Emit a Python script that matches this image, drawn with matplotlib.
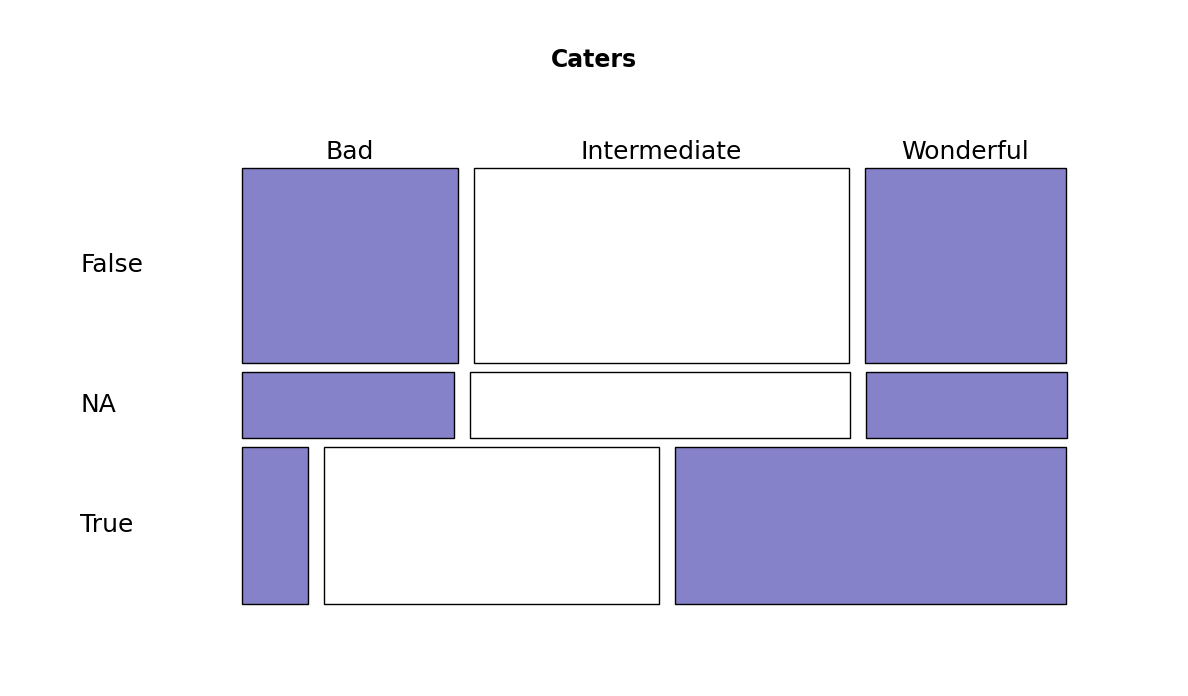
import matplotlib.pyplot as plt
from matplotlib.patches import Rectangle

rows = ['False', 'NA', 'True']
cols = ['Bad', 'Intermediate', 'Wonderful']
row_share = [0.466, 0.158, 0.376]
col_share = {
    'False': [0.273, 0.473, 0.254],
    'NA': [0.268, 0.479, 0.254],
    'True': [0.083, 0.423, 0.494],
}
fills = ['#8682ca', 'white', '#8682ca']

W, H = 1188, 696
fig = plt.figure(figsize=(W / 100, H / 100), dpi=100)
ax = fig.add_axes([242 / W, (H - 604) / H, 824 / W, 436 / H])
ax.set_xlim(0, 824)
ax.set_ylim(436, 0)
ax.axis('off')

xgap, ygap = 16, 9
avail_h = 436 - ygap * (len(rows) - 1)
avail_w = 824 - xgap * (len(cols) - 1)
y = 0
for r, rs in zip(rows, row_share):
    h = rs * avail_h
    x = 0
    for j, cs in enumerate(col_share[r]):
        w = cs * avail_w
        ax.add_patch(Rectangle((x, y), w, h, facecolor=fills[j],
                               edgecolor='black', linewidth=1, clip_on=False))
        if r == rows[0]:
            ax.text(x + w / 2, -4, cols[j], ha='center', va='bottom', fontsize=18)
        x += w + xgap
    ax.text(-162, y + h / 2, r, ha='left', va='center', fontsize=18)
    y += h + ygap

fig.text(0.5, 1 - 60 / H, 'Caters', ha='center', va='center',
         fontsize=17, fontweight='bold')
fig.savefig('out.png')
